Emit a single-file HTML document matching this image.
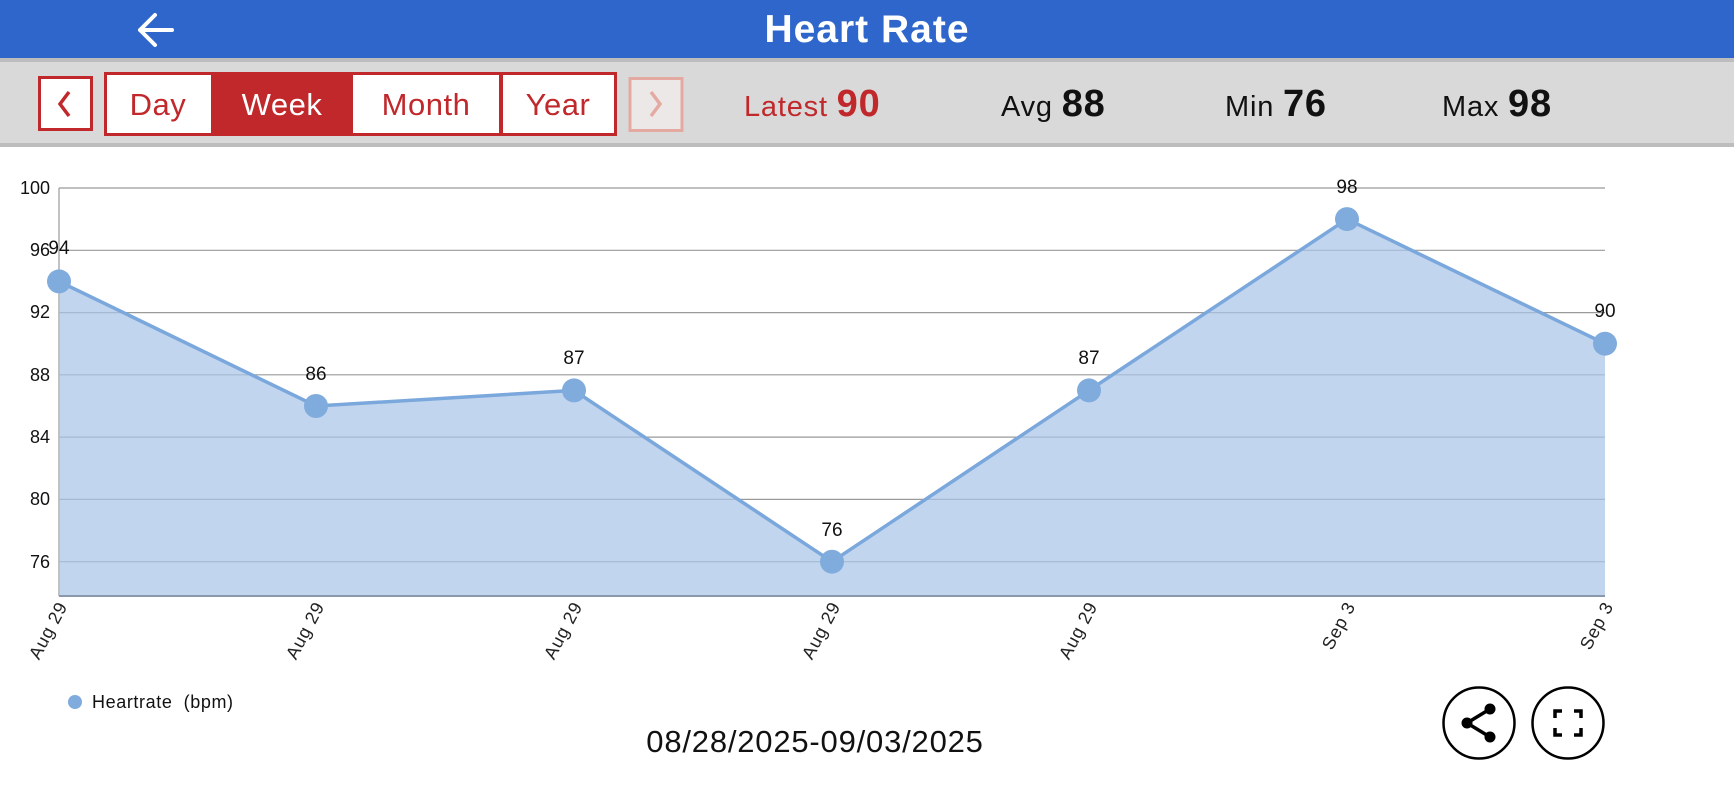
<!DOCTYPE html>
<html><head><meta charset="utf-8"><style>
body{margin:0;width:1734px;height:800px;overflow:hidden;background:#fff;font-family:"Liberation Sans",sans-serif;}
</style></head><body>
<svg width="1734" height="800" xmlns="http://www.w3.org/2000/svg" font-family="Liberation Sans, sans-serif">
<rect x="0" y="0" width="1734" height="58" fill="#2e66cc"/>
<text x="867" y="42" text-anchor="middle" font-size="39" font-weight="bold" fill="#fff" letter-spacing="1">Heart Rate</text>
<path d="M172 30 H140 M155 15 L140 30 L155 45" stroke="#fff" stroke-width="4" fill="none" stroke-linecap="round" stroke-linejoin="round"/>
<rect x="0" y="58" width="1734" height="88" fill="#d9d9d9"/>
<rect x="0" y="58" width="1734" height="4" fill="#bdbdbd"/>
<rect x="0" y="143" width="1734" height="4" fill="#bdbdbd"/>
<rect x="39.5" y="77.5" width="52" height="52" fill="#fff" stroke="#c0282b" stroke-width="3"/>
<path d="M69 92 L60 104 L69 116" stroke="#c0282b" stroke-width="3.5" fill="none"/>
<rect x="104" y="72" width="513" height="64" fill="#c0282b"/>
<rect x="107" y="75" width="104" height="58" fill="#fff"/>
<rect x="353" y="75" width="146" height="58" fill="#fff"/>
<rect x="503" y="75" width="111" height="58" fill="#fff"/>
<text x="158" y="115" text-anchor="middle" font-size="31" fill="#c0282b" letter-spacing="0.5">Day</text>
<text x="282" y="115" text-anchor="middle" font-size="31" fill="#fff" letter-spacing="0.5">Week</text>
<text x="426" y="115" text-anchor="middle" font-size="31" fill="#c0282b" letter-spacing="0.5">Month</text>
<text x="558" y="115" text-anchor="middle" font-size="31" fill="#c0282b" letter-spacing="0.5">Year</text>
<rect x="630" y="78.5" width="52" height="52" fill="#ece8e8" stroke="#e4aaa2" stroke-width="3"/>
<path d="M651 92 L660 104 L651 116" stroke="#e4aaa2" stroke-width="3.5" fill="none"/>
<text x="744" y="116" font-size="29" fill="#c0282b" letter-spacing="0.8">Latest <tspan font-size="38" font-weight="bold">90</tspan></text>
<text x="1001" y="116" font-size="29" fill="#111" letter-spacing="0.8">Avg <tspan font-size="38" font-weight="bold">88</tspan></text>
<text x="1225" y="116" font-size="29" fill="#111" letter-spacing="0.8">Min <tspan font-size="38" font-weight="bold">76</tspan></text>
<text x="1442" y="116" font-size="29" fill="#111" letter-spacing="0.8">Max <tspan font-size="38" font-weight="bold">98</tspan></text>
<g stroke="#9a9a9a" stroke-width="1.2">
<line x1="59" y1="188" x2="1605" y2="188"/><line x1="59" y1="250.3" x2="1605" y2="250.3"/>
<line x1="59" y1="312.6" x2="1605" y2="312.6"/><line x1="59" y1="374.8" x2="1605" y2="374.8"/>
<line x1="59" y1="437.1" x2="1605" y2="437.1"/><line x1="59" y1="499.4" x2="1605" y2="499.4"/>
<line x1="59" y1="561.7" x2="1605" y2="561.7"/><line x1="59" y1="188" x2="59" y2="596"/>
</g>
<polygon points="59,281.4 316,406 574,390.4 832,561.7 1089,390.4 1347,219.1 1605,343.7 1605,596 59,596" fill="#a9c5e8" fill-opacity="0.72"/>
<line x1="59" y1="596" x2="1605" y2="596" stroke="#8a98ac" stroke-width="2"/>
<polyline points="59,281.4 316,406 574,390.4 832,561.7 1089,390.4 1347,219.1 1605,343.7" fill="none" stroke="#7aa7dc" stroke-width="3.5"/>
<g fill="#80abdd">
<circle cx="59" cy="281.4" r="12"/><circle cx="316" cy="406" r="12"/><circle cx="574" cy="390.4" r="12"/>
<circle cx="832" cy="561.7" r="12"/><circle cx="1089" cy="390.4" r="12"/><circle cx="1347" cy="219.1" r="12"/><circle cx="1605" cy="343.7" r="12"/>
</g>
<g font-size="18" fill="#111" text-anchor="end">
<text x="50" y="194">100</text><text x="50" y="256">96</text><text x="50" y="318">92</text>
<text x="50" y="381">88</text><text x="50" y="443">84</text><text x="50" y="505">80</text><text x="50" y="568">76</text>
</g>
<g font-size="19" fill="#111" text-anchor="middle">
<text x="59" y="254">94</text><text x="316" y="380">86</text><text x="574" y="364">87</text>
<text x="832" y="536">76</text><text x="1089" y="364">87</text><text x="1347" y="193">98</text><text x="1605" y="317">90</text>
</g>
<g font-size="18" fill="#222" text-anchor="end" letter-spacing="0.8">
<text transform="translate(68,606) rotate(-62)">Aug 29</text>
<text transform="translate(325,606) rotate(-62)">Aug 29</text>
<text transform="translate(583,606) rotate(-62)">Aug 29</text>
<text transform="translate(841,606) rotate(-62)">Aug 29</text>
<text transform="translate(1098,606) rotate(-62)">Aug 29</text>
<text transform="translate(1356,606) rotate(-62)">Sep 3</text>
<text transform="translate(1614,606) rotate(-62)">Sep 3</text>
</g>
<circle cx="75" cy="702" r="7" fill="#80abdd"/>
<text x="92" y="708" font-size="18" fill="#111" xml:space="preserve" letter-spacing="0.6">Heartrate  (bpm)</text>
<text x="815" y="752" text-anchor="middle" font-size="31" fill="#111" letter-spacing="0.8">08/28/2025-09/03/2025</text>
<circle cx="1479" cy="723" r="35.5" fill="#fff" stroke="#000" stroke-width="2.5"/>
<circle cx="1568" cy="723" r="35.5" fill="#fff" stroke="#000" stroke-width="2.5"/>
<path d="M1467 723 L1490 709 M1467 723 L1490 737" stroke="#000" stroke-width="3.5"/>
<circle cx="1467" cy="723" r="5.5"/><circle cx="1490" cy="709" r="5.5"/><circle cx="1490" cy="737" r="5.5"/>
<path d="M1555 718 V711 H1562 M1574 711 H1581 V718 M1581 728 V735 H1574 M1562 735 H1555 V728" stroke="#000" stroke-width="3.5" fill="none"/>
</svg>
</body></html>
